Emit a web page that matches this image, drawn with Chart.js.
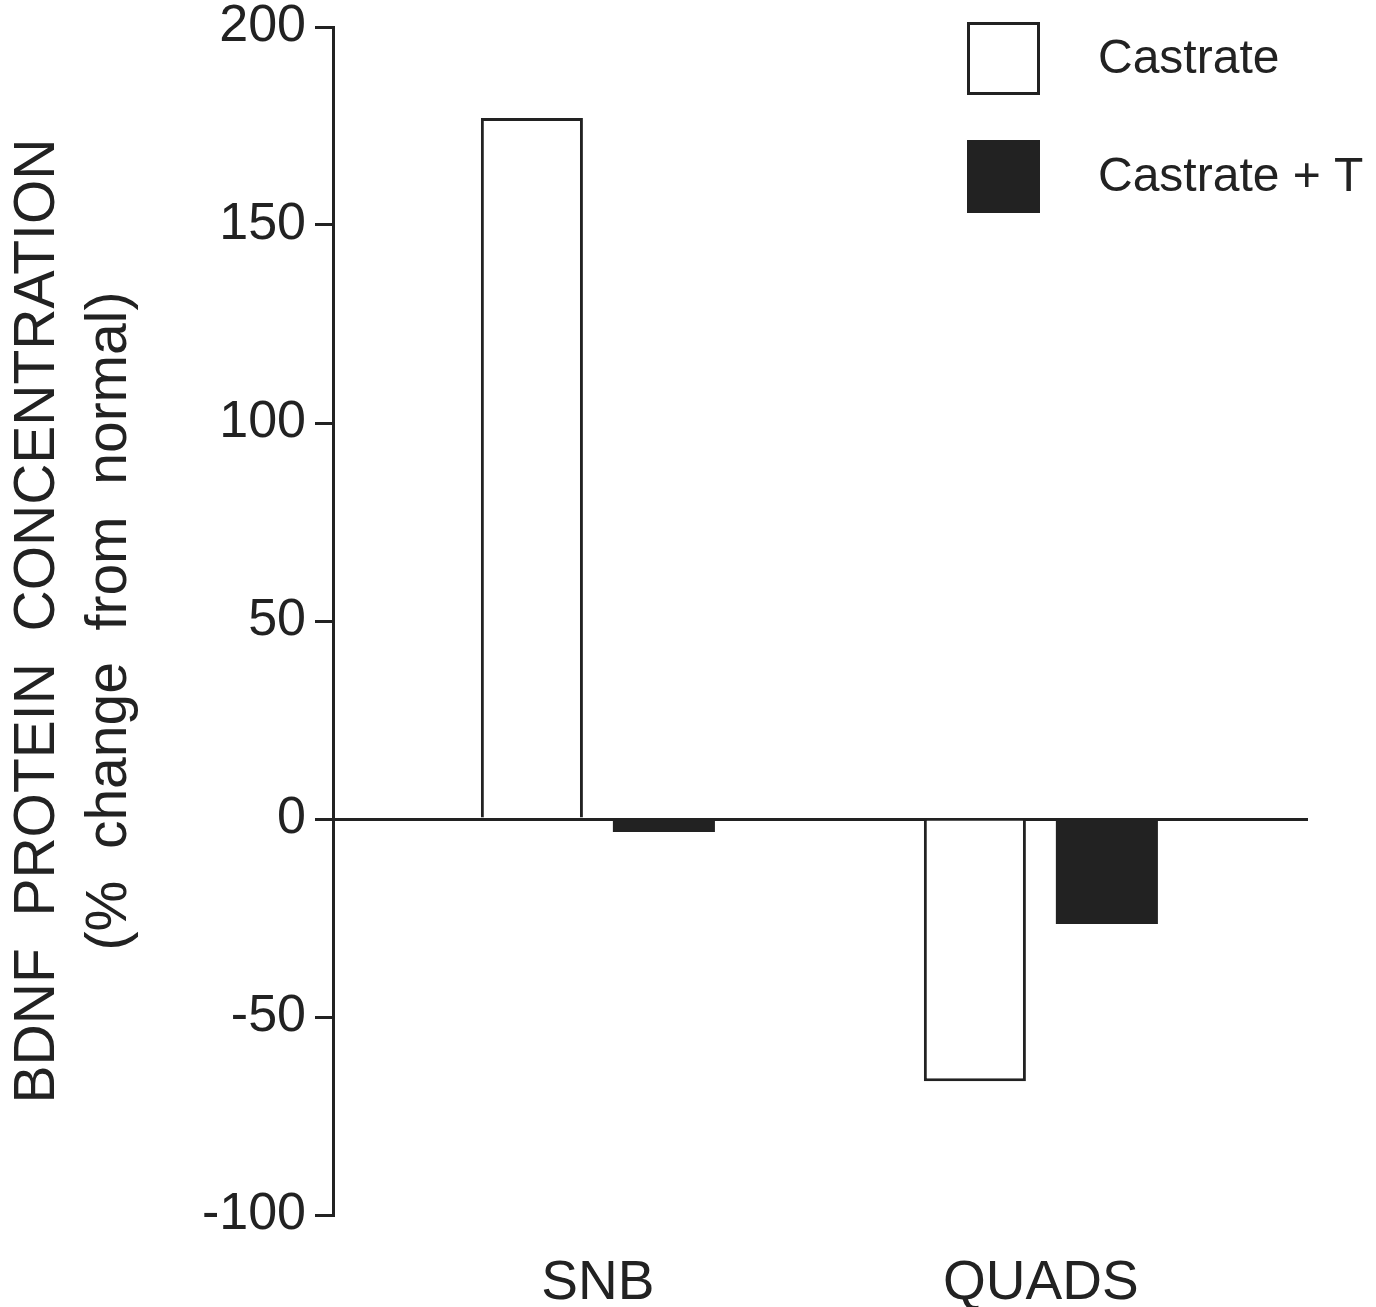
<!DOCTYPE html>
<html>
<head>
<meta charset="utf-8">
<script src="https://cdn.jsdelivr.net/npm/chart.js@4/dist/chart.umd.min.js"></script>
<style>
  html, body { margin: 0; padding: 0; background: #fff; }
  #wrap { width: 1376px; height: 1307px; position: relative; }
</style>
</head>
<body>
<div id="wrap"><canvas id="c"></canvas></div>
<script>
const categories = ['SNB', 'QUADS'];
const seriesNames = ['Castrate', 'Castrate + T'];
const castrate = [177, -66.2];
const castrateT = [-3.3, -26.5];
const yTicks = [-100, -50, 0, 50, 100, 150, 200];
const yTitle = ['BDNF  PROTEIN  CONCENTRATION', '(%  change  from  normal)'];

const INK = '#222222';
const FONT = '"Liberation Sans", Arial, Helvetica, sans-serif';

const toPoints = arr => arr.map((v, i) => ({ x: i + 1, y: v }));

const legendPlugin = {
  id: 'boxLegend',
  afterDraw(chart) {
    const ctx = chart.ctx;
    ctx.save();
    chart.data.datasets.forEach((ds, i) => {
      const bx = 968.5, by = 23.5 + i * 118, s = 70;
      ctx.fillStyle = ds.backgroundColor;
      ctx.fillRect(bx, by, s, s);
      ctx.lineWidth = 3;
      ctx.strokeStyle = INK;
      ctx.strokeRect(bx, by, s, s);
      ctx.fillStyle = INK;
      ctx.font = '48px ' + FONT;
      ctx.textBaseline = 'middle';
      ctx.textAlign = 'left';
      ctx.fillText(ds.label, 1098, by + s / 2 + 1);
    });
    ctx.restore();
  }
};

new Chart(document.getElementById('c'), {
  type: 'bar',
  data: {
    datasets: [
      {
        label: seriesNames[0],
        data: toPoints(castrate),
        backgroundColor: '#ffffff',
        borderColor: INK,
        borderWidth: 3,
        borderSkipped: 'start'
      },
      {
        label: seriesNames[1],
        data: toPoints(castrateT),
        backgroundColor: INK,
        borderColor: INK,
        borderWidth: 0,
        borderSkipped: 'start'
      }
    ]
  },
  options: {
    responsive: true,
    maintainAspectRatio: false,
    animation: false,
    categoryPercentage: 0.596,
    barPercentage: 0.773,
    layout: { padding: { left: 0, top: 27, right: 68, bottom: 0 } },
    plugins: {
      legend: { display: false },
      tooltip: { enabled: false }
    },
    scales: {
      x: {
        type: 'linear',
        offset: false,
        min: 0.402,
        max: 2.603,
        afterBuildTicks: s => { s.ticks = categories.map((c, i) => ({ value: i + 1 })); },
        afterFit: s => { s.height = 92; s.paddingLeft = 0; s.paddingRight = 0; },
        grid: { display: false, drawTicks: false, offset: false },
        border: { display: false },
        ticks: {
          color: INK,
          font: { family: FONT, size: 55 },
          padding: 36,
          maxRotation: 0,
          autoSkip: false,
          callback: v => categories[Math.round(v) - 1] || ''
        }
      },
      y: {
        min: -100,
        max: 200,
        z: 1,
        afterBuildTicks: s => { s.ticks = yTicks.map(v => ({ value: v })); },
        afterFit: s => { s.width = 333; s.paddingTop = 0; s.paddingBottom = 0; },
        border: { display: true, color: INK, width: 3 },
        grid: {
          color: c => (c.tick && c.tick.value === 0 ? INK : 'rgba(0,0,0,0)'),
          lineWidth: 3,
          tickColor: INK,
          tickWidth: 3,
          tickLength: 18,
          drawTicks: true
        },
        ticks: {
          color: INK,
          font: { family: FONT, size: 52 },
          padding: 9
        },
        title: {
          display: true,
          text: yTitle,
          color: INK,
          font: { family: FONT, size: 57, lineHeight: 1.25 },
          padding: { top: 3, bottom: 0 }
        }
      }
    }
  },
  plugins: [legendPlugin]
});
</script>
</body>
</html>
